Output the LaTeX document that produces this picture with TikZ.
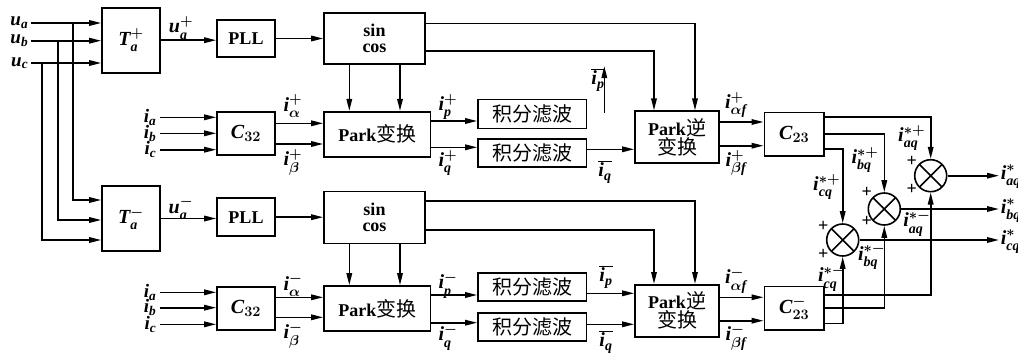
\documentclass[tikz,border=0pt]{standalone}
\usepackage{fontspec}
\setmainfont{Liberation Serif}
\newfontfamily\cjk{Noto Sans CJK SC}
\usetikzlibrary{arrows.meta,calc}
\newcommand\zhtxt[1]{{\cjk\mdseries\fontsize{20}{22}\selectfont #1}}
\newcommand\vv[1]{\mathit{#1}}
\begin{document}
\begin{tikzpicture}[x=1pt,y=-1pt,line width=1.6pt,
 every node/.style={inner sep=1pt,font=\fontsize{20}{22}\selectfont\bfseries\boldmath},
 txt/.style={font=\fontsize{18}{20}\selectfont\bfseries},
 inl/.style={anchor=east,inner sep=0pt,font=\fontsize{19}{21}\selectfont\bfseries\boldmath},
 blk/.style 2 args={draw,rectangle,inner sep=0pt,minimum width=#1,minimum height=#2},
 arr/.style={-{Triangle[length=12pt,width=5.5pt]}},
 sum/.style={draw,circle,inner sep=0pt,minimum size=32pt,
   path picture={\draw[line width=1.6pt] (path picture bounding box.north west)--(path picture bounding box.south east)
     (path picture bounding box.north east)--(path picture bounding box.south west);}}]
\useasboundingbox (0,0) rectangle (1018,359);
% ---------- boxes
\node[blk={58pt}{65pt}] (T1) at (131,40.2) {$\vv{T}^{+}_{\vv{a}}$};
\node[blk={58pt}{65pt}] (T2) at (131,218.5) {$\vv{T}^{-}_{\vv{a}}$};
\node[blk={58pt}{37pt},txt] (P1) at (246,38.5) {PLL};
\node[blk={58pt}{38pt},txt] (P2) at (246,217.2) {PLL};
\node[blk={101pt}{51pt},txt,align=center] (SC1) at (374.5,38.5) {sin\\[-4pt]cos};
\node[blk={101pt}{52pt},txt,align=center] (SC2) at (374.5,217.5) {sin\\[-4pt]cos};
\node[blk={58pt}{43pt}] (CA) at (246,133.5) {$\vv{C}_{32}$};
\node[blk={58pt}{43pt}] (CB) at (246,308.3) {$\vv{C}_{32}$};
\node[blk={106.7pt}{45pt},txt] (K1) at (377.3,134.2) {Park\zhtxt{变换}};
\node[blk={106.7pt}{45pt},txt] (K2) at (377.3,308.5) {Park\zhtxt{变换}};
\node[blk={108.7pt}{29pt}] (F1) at (532.3,113.8) {\zhtxt{积分滤波}};
\node[blk={108.7pt}{28pt}] (F2) at (532.3,153) {\zhtxt{积分滤波}};
\node[blk={108.7pt}{28pt}] (F3) at (532.3,287) {\zhtxt{积分滤波}};
\node[blk={108.7pt}{28pt}] (F4) at (532.3,326.7) {\zhtxt{积分滤波}};
\node[blk={84pt}{52pt},txt,align=center] (I1) at (677,137.2) {Park\zhtxt{逆}\\[-1pt]\zhtxt{变换}};
\node[blk={84pt}{52pt},txt,align=center] (I2) at (677,310.8) {Park\zhtxt{逆}\\[-1pt]\zhtxt{变换}};
\node[blk={59.7pt}{43.4pt}] (D1) at (794.2,134) {$\vv{C}_{23}$};
\node[blk={59.7pt}{43.4pt}] (D2) at (794.2,308.3) {$\vv{C}^{-}_{23}$};
\node[sum] (S1) at (930.7,175.7) {};
\node[sum] (S2) at (884.3,209) {};
\node[sum] (S3) at (842.7,240) {};
% ---------- input labels
\node[inl] (ua) at (29,23) {$\vv{u}_{\vv{a}}$};
\node[inl] (ub) at (29,40.7) {$\vv{u}_{\vv{b}}$};
\node[inl] (uc) at (29,63) {$\vv{u}_{\vv{c}}$};
\node[inl] (ia1) at (157,117.3) {$\vv{i}_{\vv{a}}$};
\node[inl] (ib1) at (157,133.3) {$\vv{i}_{\vv{b}}$};
\node[inl] (ic1) at (157,149.7) {$\vv{i}_{\vv{c}}$};
\node[inl] (ia2) at (157,292.3) {$\vv{i}_{\vv{a}}$};
\node[inl] (ib2) at (157,307.7) {$\vv{i}_{\vv{b}}$};
\node[inl] (ic2) at (157,324.3) {$\vv{i}_{\vv{c}}$};
% ---------- output labels
\node[anchor=west] (ya) at (999,177) {$\vv{i}^{*}_{\vv{aq}}$};
\node[anchor=west] (yb) at (999,211) {$\vv{i}^{*}_{\vv{bq}}$};
\node[anchor=west] (yc) at (999,242) {$\vv{i}^{*}_{\vv{cq}}$};
% ---------- signal labels
\node (l1) at (181,28) {$\vv{u}^{+}_{\vv{a}}$};
\node (l2) at (181,208) {$\vv{u}^{-}_{\vv{a}}$};
\node (l3) at (293,106) {$\vv{i}^{+}_{\alpha}$};
\node (l4) at (293,162) {$\vv{i}^{+}_{\beta}$};
\node (l5) at (293,285) {$\vv{i}^{-}_{\alpha}$};
\node (l6) at (293,335) {$\vv{i}^{-}_{\beta}$};
\node (l7) at (448,107) {$\vv{i}^{+}_{\vv{p}}$};
\node (l8) at (448,163) {$\vv{i}^{+}_{\vv{q}}$};
\node (l9) at (448,285) {$\vv{i}^{-}_{\vv{p}}$};
\node (l10) at (448,337) {$\vv{i}^{-}_{\vv{q}}$};
\node (l11) at (598,80) {$\overline{\vv{i}_{\vv{p}}}$};
\node (l12) at (605,172) {$\overline{\vv{i}_{\vv{q}}}$};
\node (l13) at (606,277) {$\overline{\vv{i}_{\vv{p}}}$};
\node (l14) at (606,342) {$\overline{\vv{i}_{\vv{q}}}$};
\node (l15) at (736,105) {$\vv{i}^{+}_{\alpha \vv{f}}$};
\node (l16) at (736,163) {$\vv{i}^{+}_{\beta \vv{f}}$};
\node (l17) at (736,280) {$\vv{i}^{-}_{\alpha \vv{f}}$};
\node (l18) at (736,337) {$\vv{i}^{-}_{\beta \vv{f}}$};
\node (l19) at (911.7,138) {$\vv{i}^{*+}_{\vv{aq}}$};
\node (l20) at (865,160) {$\vv{i}^{*+}_{\vv{bq}}$};
\node (l21) at (826.7,187) {$\vv{i}^{*+}_{\vv{cq}}$};
\node (l22) at (917,223) {$\vv{i}^{*-}_{\vv{aq}}$};
\node (l23) at (871.7,256.7) {$\vv{i}^{*-}_{\vv{bq}}$};
\node (l24) at (831.7,278) {$\vv{i}^{*-}_{\vv{cq}}$};
\node[txt] (p1) at (911.7,161.7) {+};
\node[txt] (p2) at (911.7,189.3) {+};
\node[txt] (p3) at (866.7,192.3) {+};
\node[txt] (p4) at (866.7,221.7) {+};
\node[txt] (p5) at (823.3,226.7) {+};
\node[txt] (p6) at (823.3,254) {+};
% ---------- helper coordinates
\coordinate (ja) at (72.7,23);
\coordinate (jb) at (58,40.7);
\coordinate (jc) at (41.7,63);
\coordinate (d1) at ($(SC1.south)+(-25.2,0)$);
\coordinate (d2) at ($(SC1.south)+(25.5,0)$);
\coordinate (d3) at ($(SC2.south)+(-25.2,0)$);
\coordinate (d4) at ($(SC2.south)+(25.5,0)$);
\coordinate (s1) at ($(SC1.east)+(0,-15.2)$);
\coordinate (s2) at ($(SC1.east)+(0,12.2)$);
\coordinate (s3) at ($(SC2.east)+(0,-16.5)$);
\coordinate (s4) at ($(SC2.east)+(0,12.5)$);
\coordinate (c1) at ($(CA.east)+(0,-10.2)$);
\coordinate (c2) at ($(CA.east)+(0,10.5)$);
\coordinate (c3) at ($(CB.east)+(0,-11)$);
\coordinate (c4) at ($(CB.east)+(0,9)$);
\coordinate (k1) at ($(K1.east)+(0,-13.2)$);
\coordinate (k2) at ($(K1.east)+(0,13.1)$);
\coordinate (k3) at ($(K2.east)+(0,-13.5)$);
\coordinate (k4) at ($(K2.east)+(0,14.2)$);
\coordinate (f2) at ($(F2.east)+(0,-3.7)$);
\coordinate (f3) at ($(F3.east)+(0,6.3)$);
\coordinate (f4) at ($(F4.east)+(0,-2.4)$);
\coordinate (i1) at ($(I1.east)+(0,-15.2)$);
\coordinate (i2) at ($(I1.east)+(0,8.5)$);
\coordinate (i3) at ($(I2.east)+(0,-13.5)$);
\coordinate (i4) at ($(I2.east)+(0,9.9)$);
\coordinate (o1) at ($(D1.east)+(0,-17.3)$);
\coordinate (o2) at ($(D1.east)+(0,0)$);
\coordinate (o3) at ($(D1.east)+(0,15)$);
\coordinate (o4) at ($(D2.east)+(0,-13.3)$);
\coordinate (o5) at ($(D2.east)+(0,-0.6)$);
\coordinate (o6) at ($(D2.east)+(0,15)$);
\coordinate (u1) at (604.3,113);
\coordinate (u2) at (604.3,66);
% ---------- connectors
\foreach \n in {ua,ub,uc} \draw[arr] ([xshift=2pt]\n.east) -- (\n.east -| T1.west);
\draw[arr] (ja) |- ($(T2.west)+(0,-18.5)$);
\draw[arr] (jb) |- ($(T2.west)+(0,1.5)$);
\draw[arr] (jc) |- ($(T2.west)+(0,21.5)$);
\draw[arr] (T1.east) -- (T1.east -| P1.west);
\draw[arr] (T2.east) -- (T2.east -| P2.west);
\draw[arr] (P1.east) -- (P1.east -| SC1.west);
\draw[arr] (P2.east) -- (P2.east -| SC2.west);
\foreach \n in {d1,d2} \draw[arr] (\n) -- (\n |- K1.north);
\foreach \n in {d3,d4} \draw[arr] (\n) -- (\n |- K2.north);
\draw[arr] (s1) -| ($(I1.north)+(18,0)$);
\draw[arr] (s2) -| ($(I1.north)+(-23,0)$);
\draw[arr] (s3) -| ($(I2.north)+(18,0)$);
\draw[arr] (s4) -| ($(I2.north)+(-23,0)$);
\foreach \n in {ia1,ib1,ic1} \draw[arr] ([xshift=3pt]\n.east) -- (\n.east -| CA.west);
\foreach \n in {ia2,ib2,ic2} \draw[arr] ([xshift=3pt]\n.east) -- (\n.east -| CB.west);
\foreach \n in {c1,c2} \draw[arr] (\n) -- (\n -| K1.west);
\foreach \n in {c3,c4} \draw[arr] (\n) -- (\n -| K2.west);
\draw[arr] (k1) -- (k1 -| F1.west);
\draw[arr] (k2) -- (k2 -| F2.west);
\draw[arr] (k3) -- (k3 -| F3.west);
\draw[arr] (k4) -- (k4 -| F4.west);
\draw[arr] (f2) -- (f2 -| I1.west);
\draw[arr] (f3) -- (f3 -| I2.west);
\draw[arr] (f4) -- (f4 -| I2.west);
\draw[arr] (u1) -- (u2);
\foreach \n in {i1,i2} \draw[arr] (\n) -- (\n -| D1.west);
\foreach \n in {i3,i4} \draw[arr] (\n) -- (\n -| D2.west);
\draw[arr] (o1) -| (S1.north);
\draw[arr] (o2) -| (S2.north);
\draw[arr] (o3) -| (S3.north);
\draw[arr] (o4) -| (S1.south);
\draw[arr] (o5) -| (S2.south);
\draw[arr] (o6) -| (S3.south);
\draw[arr] (S1.east) -- (S1.east -| ya.west);
\draw[arr] (S2.east) -- (S2.east -| yb.west);
\draw[arr] (S3.east) -- (S3.east -| yc.west);
\end{tikzpicture}
\end{document}
